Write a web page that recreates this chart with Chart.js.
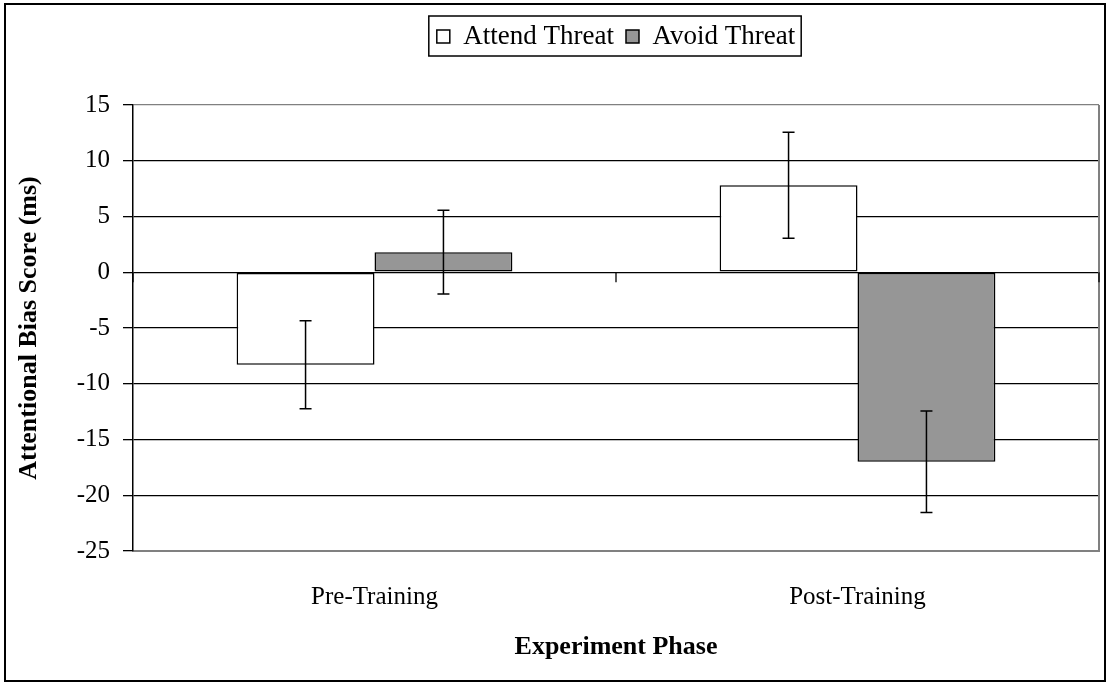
<!DOCTYPE html>
<html>
<head>
<meta charset="utf-8">
<script src="https://cdn.jsdelivr.net/npm/chart.js@4.4.1/dist/chart.umd.min.js"></script>
<style>
  body { margin: 0; background: #fff; }
  #wrap { width: 1110px; height: 684px; }
</style>
</head>
<body>
<div id="wrap"><canvas id="bias-chart" width="1110" height="684"></canvas></div>
<script>

var phases = ["Pre-Training", "Post-Training"];
var attendThreat = [-8.3, 7.8];
var avoidThreat = [1.8, -17.0];
var attendErr = [3.95, 4.75];
var avoidErr = [3.75, 4.55];
var yTicks = [15, 10, 5, 0, -5, -10, -15, -20, -25];

var serif = "'Liberation Serif', 'Times New Roman', serif";

// white page + outer frame
var framePlugin = {
	id: "frame",
	beforeDraw: function(chart){
		var ctx = chart.ctx;
		ctx.save();
		ctx.fillStyle = "#fff";
		ctx.fillRect(0, 0, chart.width, chart.height);
		ctx.strokeStyle = "#000";
		ctx.lineWidth = 2;
		ctx.strokeRect(5, 4, 1100, 677);
		ctx.restore();
	}
};

// legend centred over the plot area, with a box round it
var legendBoxPlugin = {
	id: "legendBox",
	afterLayout: function(chart){
		var lg = chart.legend, area = chart.chartArea;
		var shift = (area.left + area.right) / 2 - (lg.left + lg.right) / 2;
		lg.left += shift;
		lg.right += shift;
	},
	afterDraw: function(chart){
		var boxes = chart.legend.legendHitBoxes;
		if (!boxes || !boxes.length) return;
		var first = boxes[0], last = boxes[boxes.length - 1];
		var ctx = chart.ctx;
		ctx.save();
		ctx.strokeStyle = "#000";
		ctx.lineWidth = 1.5;
		var l = first.left - 8, r = last.left + last.width + 6;
		var t = first.top - 7, b = first.top + first.height + 6;
		ctx.strokeRect(l, t, r - l, b - t);
		ctx.restore();
	}
};

// plot border on the right, tick marks on the zero line
var axisExtrasPlugin = {
	id: "axisExtras",
	beforeDatasetsDraw: function(chart){
		var ctx = chart.ctx, area = chart.chartArea;
		var x = chart.scales.x, y = chart.scales.y;
		ctx.save();
		ctx.strokeStyle = "#808080";
		ctx.lineWidth = 2;
		ctx.beginPath();
		ctx.moveTo(area.right, area.top);
		ctx.lineTo(area.right, area.bottom);
		ctx.stroke();

		var y0 = y.getPixelForValue(0);
		var mid = (x.getPixelForValue(0) + x.getPixelForValue(1)) / 2;
		ctx.strokeStyle = "#000";
		ctx.lineWidth = 1.3;
		[area.left, mid, area.right].forEach(function(px){
			ctx.beginPath();
			ctx.moveTo(px, y0);
			ctx.lineTo(px, y0 + 10);
			ctx.stroke();
		});
		ctx.restore();
	}
};

var errorBarPlugin = {
	id: "errorBars",
	afterDatasetsDraw: function(chart){
		var ctx = chart.ctx, y = chart.scales.y;
		ctx.save();
		ctx.strokeStyle = "#000";
		ctx.lineWidth = 1.5;
		chart.data.datasets.forEach(function(ds, i){
			var meta = chart.getDatasetMeta(i);
			meta.data.forEach(function(bar, j){
				var v = ds.data[j], e = ds.errors[j];
				var top = y.getPixelForValue(v + e);
				var bot = y.getPixelForValue(v - e);
				ctx.beginPath();
				ctx.moveTo(bar.x, top);
				ctx.lineTo(bar.x, bot);
				ctx.moveTo(bar.x - 6, top);
				ctx.lineTo(bar.x + 6, top);
				ctx.moveTo(bar.x - 6, bot);
				ctx.lineTo(bar.x + 6, bot);
				ctx.stroke();
			});
		});
		ctx.restore();
	}
};

var ctx = document.getElementById("bias-chart");
var biasChart = new Chart(ctx, {
	type: "bar",
	data: {
		labels: phases,
		datasets: [
		{
			label: "Attend Threat",
			data: attendThreat,
			errors: attendErr,
			backgroundColor: "#ffffff",
			borderColor: "#000000",
			borderWidth: 1.5,
			borderSkipped: false,
			xAxisID: "x",
			yAxisID: "y"
		},
		{
			label: "Avoid Threat",
			data: avoidThreat,
			errors: avoidErr,
			backgroundColor: "#969696",
			borderColor: "#000000",
			borderWidth: 1.5,
			borderSkipped: false,
			xAxisID: "x",
			yAxisID: "y"
		}
		]
	},
	options: {
		responsive: false,
		animation: false,
		devicePixelRatio: 1,
		datasets: {
			bar: { categoryPercentage: 0.571, barPercentage: 1.0 }
		},
		layout: {
			padding: { left: 10, right: 11, top: 11, bottom: 10 }
		},
		plugins: {
			tooltip: { enabled: false },
			legend: {
				display: true,
				position: "top",
				onClick: null,
				labels: {
					boxWidth: 13,
					boxHeight: 13,
					padding: 12,
					color: "#000",
					font: { family: serif, size: 27 }
				}
			}
		},
		scales: {
			x: {
				type: "category",
				position: "bottom",
				grid: { display: false, drawTicks: false },
				border: { display: true, color: "#808080", width: 2 },
				ticks: {
					color: "#000",
					padding: 31,
					font: { family: serif, size: 25 }
				},
				title: {
					display: true,
					text: "Experiment Phase",
					color: "#000",
					padding: { top: 0, bottom: 11 },
					font: { family: serif, size: 26, weight: "bold" }
				},
				afterFit: function(scale){ scale.height = 123; }
			},
			y: {
				type: "linear",
				position: "left",
				min: -25,
				max: 15,
				afterBuildTicks: function(scale){
					scale.ticks = yTicks.map(function(v){ return { value: v }; });
				},
				grid: {
					color: function(c){
						return (c.tick && (c.tick.value === 15 || c.tick.value === -25)) ? "#808080" : "#000";
					},
					lineWidth: 1.3,
					tickColor: "#000",
					tickLength: 10
				},
				border: { display: true, color: "#000", width: 1.5 },
				ticks: {
					color: "#000",
					padding: 13,
					font: { family: serif, size: 25 }
				},
				title: {
					display: true,
					text: "Attentional Bias Score (ms)",
					color: "#000",
					padding: { top: 4, bottom: 0 },
					font: { family: serif, size: 26, weight: "bold" }
				},
				afterFit: function(scale){ scale.width = 123; }
			},
			spacer: {
				type: "linear",
				position: "top",
				display: true,
				ticks: { display: false },
				grid: { display: false, drawTicks: false },
				border: { display: false },
				afterFit: function(scale){ scale.height = 45; }
			}
		}
	},
	plugins: [framePlugin, legendBoxPlugin, axisExtrasPlugin, errorBarPlugin]
});

</script>
</body>
</html>
